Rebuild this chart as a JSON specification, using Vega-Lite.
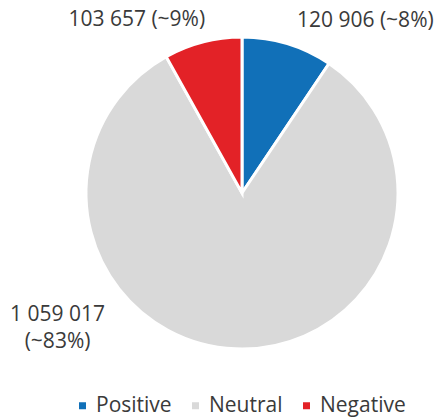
{
  "$schema": "https://vega.github.io/schema/vega-lite/v6.json",
  "width": 312,
  "height": 312,
  "autosize": {"type": "none"},
  "padding": {"left": 86, "top": 37, "right": 39, "bottom": 71},
  "background": "white",
  "config": {"view": {"stroke": null}, "font": "Open Sans"},
  "data": {
    "values": [
      {"sentiment": "Positive", "count": 120906, "rank": 1, "label": "120 906 (~8%)"},
      {"sentiment": "Neutral", "count": 1059017, "rank": 2, "label": "1 059 017\n(~83%)"},
      {"sentiment": "Negative", "count": 103657, "rank": 3, "label": "103 657 (~9%)"}
    ]
  },
  "encoding": {
    "theta": {"field": "count", "type": "quantitative", "stack": true},
    "order": {"field": "rank", "type": "quantitative"}
  },
  "layer": [
    {
      "mark": {"type": "arc", "outerRadius": 156, "stroke": "white", "strokeWidth": 3},
      "encoding": {
        "color": {
          "field": "sentiment",
          "type": "nominal",
          "scale": {"domain": ["Positive", "Neutral", "Negative"], "range": ["#1170b8", "#d9d9d9", "#e32227"]},
          "legend": {
            "title": null,
            "orient": "none",
            "direction": "horizontal",
            "legendX": -14,
            "legendY": 358,
            "symbolType": "square",
            "symbolSize": 49,
            "symbolStrokeWidth": 0,
            "symbolOpacity": 1,
            "labelFontSize": 21,
            "labelColor": "#3a3a3a",
            "labelFont": "Open Sans",
            "labelOffset": 3,
            "columnPadding": 13
          }
        }
      }
    },
    {
      "mark": {"type": "text", "radius": 200, "dx": 65, "dy": 19, "fontSize": 21, "color": "#3a3a3a", "align": "center", "baseline": "middle"},
      "encoding": {
        "text": {"condition": {"test": "datum.sentiment === 'Positive'", "field": "label"}, "value": ""}
      }
    },
    {
      "mark": {"type": "text", "radius": 200, "dx": -55, "dy": 21, "fontSize": 21, "color": "#3a3a3a", "align": "center", "baseline": "middle"},
      "encoding": {
        "text": {"condition": {"test": "datum.sentiment === 'Negative'", "field": "label"}, "value": ""}
      }
    },
    {
      "mark": {"type": "text", "radius": 200, "dx": -176, "dy": -78, "fontSize": 21, "lineHeight": 27, "lineBreak": "\n", "color": "#3a3a3a", "align": "center", "baseline": "middle"},
      "encoding": {
        "text": {"condition": {"test": "datum.sentiment === 'Neutral'", "field": "label"}, "value": ""}
      }
    }
  ]
}
